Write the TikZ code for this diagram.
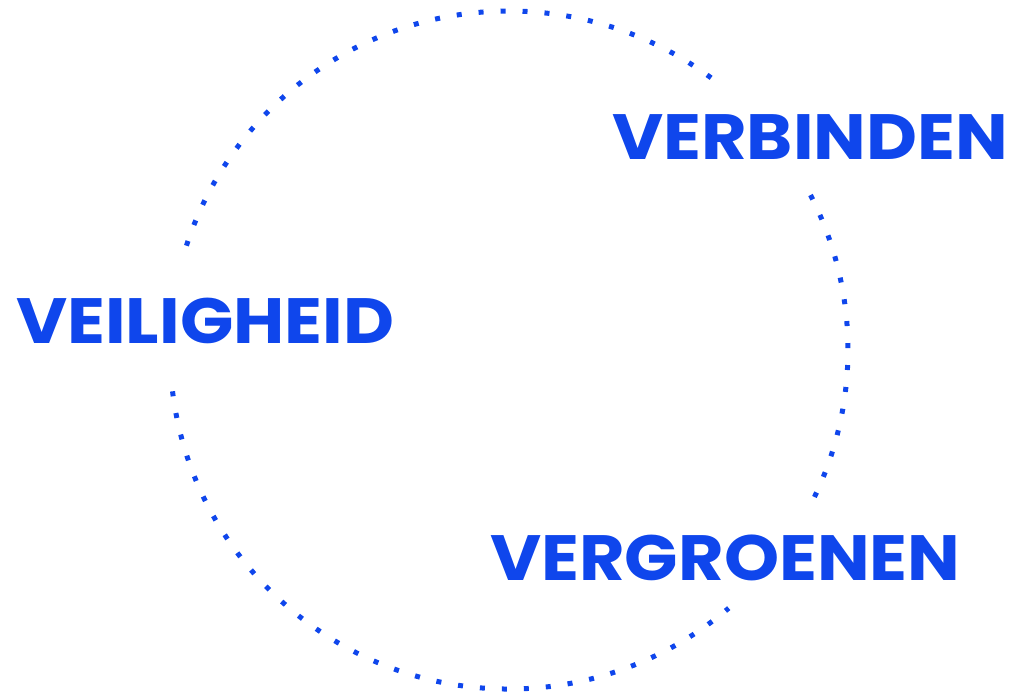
\documentclass[tikz,border=0pt]{standalone}
\usepackage{fontspec}
\setmainfont{Poppins}
\newfontfamily\wordfont[FakeStretch=1.095]{Poppins}
\usepackage{xcolor}
\definecolor{vblue}{HTML}{0F46EC}
\usetikzlibrary{positioning}

\begin{document}
\begin{tikzpicture}[x=1pt, y=1pt,
  ring/.style={draw=vblue, line width=5pt, dash pattern=on 5pt off 17pt},
  word/.style={font=\wordfont\fontsize{64}{64}\selectfont\bfseries, text=vblue, inner sep=0pt, anchor=base west},
]
\useasboundingbox (0,0) rectangle (1009,694);
\coordinate (c) at (509,344);
% dotted ring, broken where the words sit
\draw[ring] (c) ++(53.4:339) arc[start angle=53.4, end angle=163.9, radius=339];
\draw[ring] (c) ++(187:339) arc[start angle=187, end angle=310.4, radius=339];
\draw[ring] (c) ++(334.3:339) arc[start angle=334.3, end angle=389.4, radius=339];
% labels
\node[word] (verb) at (612,534) {VERBINDEN};
\node[word] (veil) at (16,350) {VEILIGHEID};
\node[word] (vergr) at (490,114) {VERGROENEN};
\end{tikzpicture}
\end{document}
